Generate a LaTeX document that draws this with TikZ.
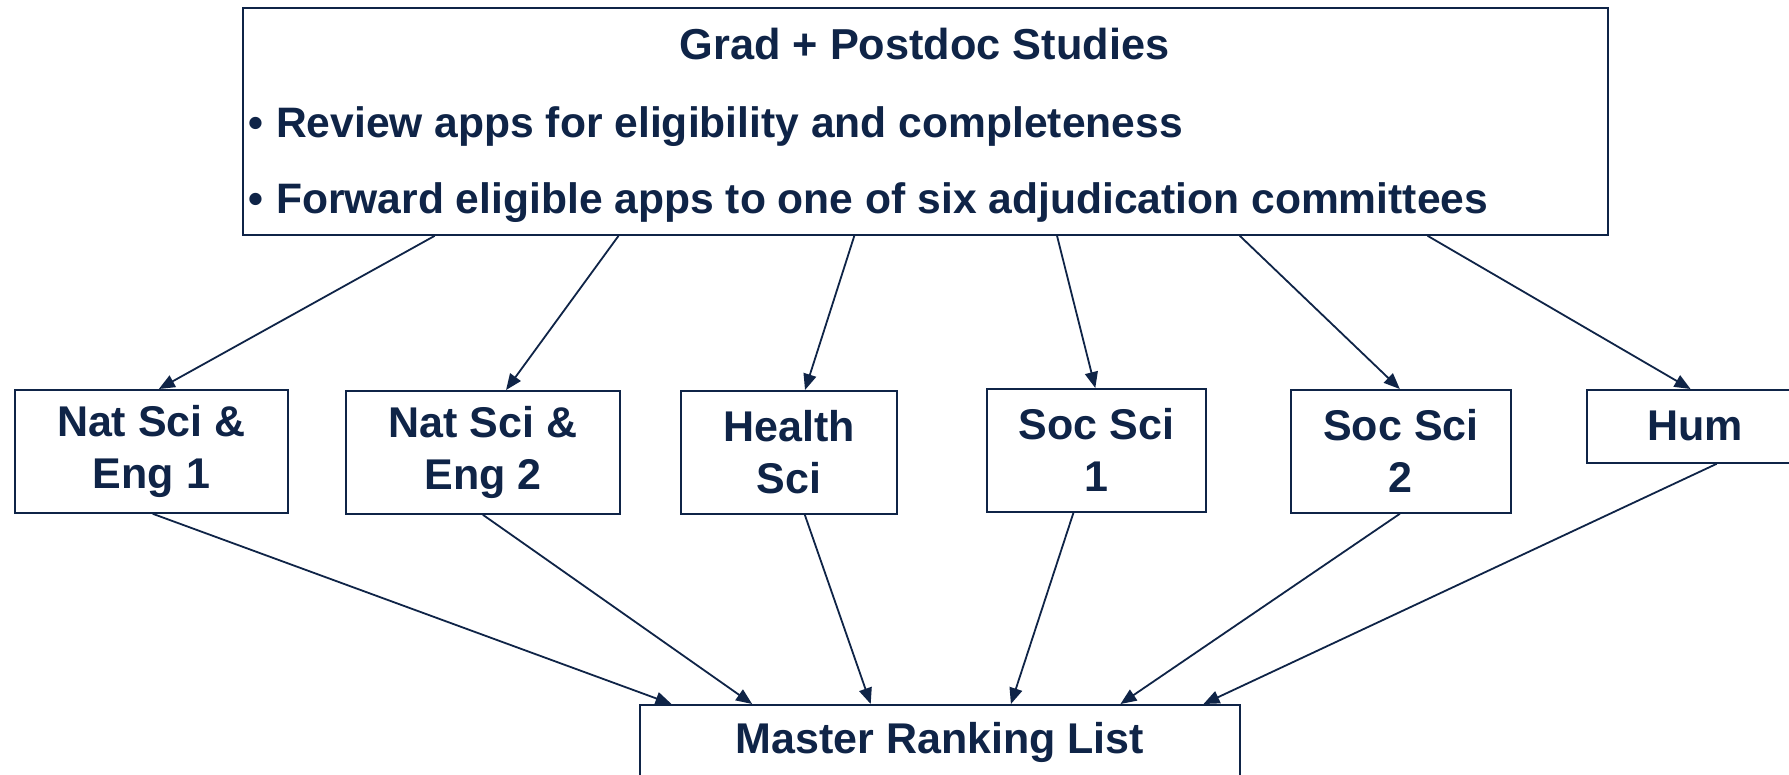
\documentclass[tikz,border=0pt]{standalone}
\usepackage{fontspec}
\setmainfont{Liberation Sans}
\usetikzlibrary{arrows.meta,calc}
\definecolor{navy}{HTML}{0F2447}
\begin{document}
\begin{tikzpicture}[x=1pt,y=-1pt,
  box/.style={draw=navy,line width=1.8pt,fill=white,rectangle,inner sep=0pt,anchor=north west,
    font=\fontsize{43}{52}\selectfont\bfseries,text=navy,align=center},
  txt/.style={inner sep=0pt,font=\fontsize{42.6}{50}\selectfont\bfseries,text=navy},
  conn/.style={draw=navy,line width=1.8pt,-{Triangle[length=16pt,width=13pt]}}]
\clip (0,0) rectangle (1789,774);
\fill[white] (0,0) rectangle (1789,774);
% top box
\node[box,minimum width=1365pt,minimum height=227pt] (top) at (242,7) {};
\node[txt,anchor=base,font=\fontsize{43.3}{50}\selectfont\bfseries] (title) at (924.5,59) {Grad + Postdoc Studies};
\node[txt,anchor=base west] (b1) at (248,137) {•\hspace{13pt}Review apps for eligibility and completeness};
\node[txt,anchor=base west] (b2) at (248,213) {•\hspace{13pt}Forward eligible apps to one of six adjudication committees};
% committees
\node[box,minimum width=273pt,minimum height=123pt] (n1) at (14,389) {Nat Sci \&\\Eng 1};
\node[box,minimum width=274pt,minimum height=123pt] (n2) at (345,390) {Nat Sci \&\\Eng 2};
\node[box,minimum width=216pt,minimum height=123pt] (hs) at (680,390) {Health\\Sci};
\node[box,minimum width=219pt,minimum height=123pt] (s1) at (986,388) {Soc Sci\\1};
\node[box,minimum width=220pt,minimum height=123pt] (s2) at (1290,389) {Soc Sci\\2};
\node[box,minimum width=216pt,minimum height=73pt] (hum) at (1586,389) {Hum};
% master
\node[box,minimum width=600pt,minimum height=76pt] (m) at (639,704) {Master Ranking List};
% arrows top -> committees
\draw[conn] ($(top.south west)!0.141!(top.south east)$) -- ($(n1.north west)!0.527!(n1.north east)$);
\draw[conn] ($(top.south west)!0.2755!(top.south east)$) -- ($(n2.north west)!0.584!(n2.north east)$);
\draw[conn] ($(top.south west)!0.448!(top.south east)$) -- ($(hs.north west)!0.574!(hs.north east)$);
\draw[conn] ($(top.south west)!0.5963!(top.south east)$) -- ($(s1.north west)!0.495!(s1.north east)$);
\draw[conn] ($(top.south west)!0.730!(top.south east)$) -- ($(s2.north west)!0.495!(s2.north east)$);
\draw[conn] ($(top.south west)!0.8674!(top.south east)$) -- ($(hum.north west)!0.48!(hum.north east)$);
% arrows committees -> master
\draw[conn] ($(n1.south west)!0.505!(n1.south east)$) -- ($(m.north west)!0.054!(m.north east)$);
\draw[conn] ($(n2.south west)!0.5!(n2.south east)$) -- ($(m.north west)!0.188!(m.north east)$);
\draw[conn] ($(hs.south west)!0.573!(hs.south east)$) -- ($(m.north west)!0.385!(m.north east)$);
\draw[conn] ($(s1.south west)!0.396!(s1.south east)$) -- ($(m.north west)!0.618!(m.north east)$);
\draw[conn] ($(s2.south west)!0.495!(s2.south east)$) -- ($(m.north west)!0.80!(m.north east)$);
\draw[conn] ($(hum.south west)!0.6!(hum.south east)$) -- ($(m.north west)!0.938!(m.north east)$);
\end{tikzpicture}
\end{document}
